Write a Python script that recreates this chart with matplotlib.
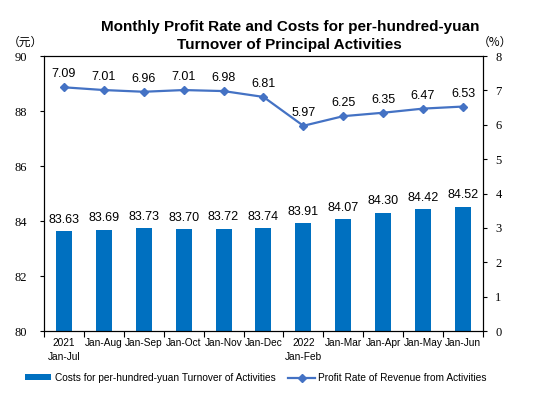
import numpy as np
import matplotlib.pyplot as plt
from matplotlib.ticker import FixedLocator, NullFormatter

categories = ["2021\nJan-Jul", "Jan-Aug", "Jan-Sep", "Jan-Oct", "Jan-Nov", "Jan-Dec",
              "2022\nJan-Feb", "Jan-Mar", "Jan-Apr", "Jan-May", "Jan-Jun"]
costs = [83.63, 83.69, 83.73, 83.70, 83.72, 83.74, 83.91, 84.07, 84.30, 84.42, 84.52]
profit_rate = [7.09, 7.01, 6.96, 7.01, 6.98, 6.81, 5.97, 6.25, 6.35, 6.47, 6.53]

bar_color = "#0070C0"
line_color = "#4472C4"
sans = "Liberation Sans"
serif = "Liberation Serif"

fig = plt.figure(figsize=(5.5, 3.99), dpi=100)
ax = fig.add_axes([0.08, 0.1704, 0.798, 0.6892])
ax2 = ax.twinx()

x = np.arange(len(categories))
bottom = 80
ax.bar(x, np.array(costs) - bottom, bottom=bottom, width=0.4, color=bar_color,
       label="Costs for per-hundred-yuan Turnover of Activities", zorder=2)
for xi, v in zip(x, costs):
    ax.text(xi, v + 0.2, f"{v:.2f}", ha="center", va="bottom", fontsize=9, family=sans)

ax2.plot(x, profit_rate, color=line_color, marker="D", markersize=4.5, linewidth=1.6,
         label="Profit Rate of Revenue from Activities", zorder=3)
for xi, v in zip(x, profit_rate):
    ax2.text(xi, v + 0.2, f"{v:.2f}", ha="center", va="bottom", fontsize=9, family=sans)

ax.set_ylim(80, 90)
ax.set_yticks(range(80, 91, 2))
ax2.set_ylim(0, 8)
ax2.set_yticks(range(0, 9))
ax.set_xlim(-0.5, len(categories) - 0.5)

ax.set_xticks(x)
ax.set_xticklabels(categories, fontsize=7.3, family=sans, linespacing=1.45)
ax.tick_params(axis="x", which="major", length=0, pad=5)
ax.xaxis.set_minor_locator(FixedLocator(np.arange(-0.5, len(categories), 1)))
ax.xaxis.set_minor_formatter(NullFormatter())
ax.tick_params(axis="x", which="minor", length=4, width=0.8)

ax.tick_params(axis="y", length=3, width=0.8, labelsize=9, pad=9)
ax2.tick_params(axis="y", length=3, width=0.8, labelsize=9, pad=6)
for a in (ax, ax2):
    for lab in a.get_yticklabels():
        lab.set_family(serif)
    for s in a.spines.values():
        s.set_linewidth(0.8)

fig.text(0.527, 0.91, "Monthly Profit Rate and Costs for per-hundred-yuan\nTurnover of Principal Activities",
         ha="center", va="center", fontsize=11, fontweight="bold", family=sans, linespacing=1.3)
fig.text(0.047, 0.895, "（元）", ha="center", va="center", fontsize=8.5,
         family=["Noto Sans CJK SC", "DejaVu Sans"])
fig.text(0.9, 0.895, "（%）", ha="center", va="center", fontsize=8.5,
         family=["Noto Sans CJK SC", "DejaVu Sans"])

h1, l1 = ax.get_legend_handles_labels()
h2, l2 = ax2.get_legend_handles_labels()
fig.legend(h1 + h2, l1 + l2, loc="center", bbox_to_anchor=(0.465, 0.053), ncol=2, frameon=False,
           prop={"family": sans, "size": 7.3}, handlelength=2.6, handleheight=0.5, columnspacing=1.3,
           handletextpad=0.3)

fig.savefig("out.png", dpi=100)
